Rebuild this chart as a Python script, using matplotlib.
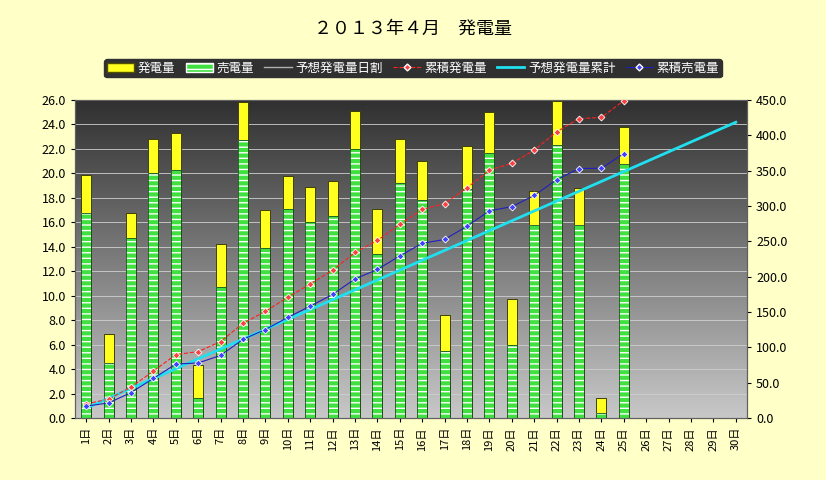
import matplotlib
matplotlib.use("Agg")
import matplotlib.pyplot as plt
import numpy as np
from matplotlib.lines import Line2D
from matplotlib.patches import Patch

plt.rcParams['font.family'] = 'Noto Sans CJK JP'

days = [f"{i}日" for i in range(1, 31)]
gen = [19.9, 6.9, 16.8, 22.8, 23.3, 4.3, 14.2, 25.8, 17.0, 19.8, 18.9, 19.4, 25.1,
       17.1, 22.8, 21.0, 8.4, 22.2, 25.0, 9.7, 18.6, 25.9, 18.8, 1.6, 23.8]
sold = [16.8, 4.5, 14.7, 20.0, 20.3, 1.6, 10.7, 22.7, 13.9, 17.1, 16.0, 16.5, 22.0,
        13.4, 19.2, 17.8, 5.5, 18.7, 21.7, 6.0, 15.8, 22.3, 15.8, 0.4, 20.8]
forecast_daily = [13.95] * 30

fig = plt.figure(figsize=(8.26, 4.8), dpi=100, facecolor='#FFFFC8')
ax = fig.add_axes([75/826, 62/480, 672/826, 318/480])
ax2 = ax.twinx()

grad = np.linspace(0, 1, 256).reshape(-1, 1)
ax.imshow(grad, extent=[-0.5, 29.5, 0, 26], aspect='auto', cmap=matplotlib.colors.LinearSegmentedColormap.from_list('g', ['#c8c8c8', '#303030']), origin='lower', zorder=0)

x = np.arange(len(gen))
ax.bar(x, gen, width=0.45, color='#FFFF20', edgecolor='#404000', linewidth=0.7, zorder=2)
ax.bar(x, sold, width=0.45, color='#40E040', edgecolor='#FFFFFF', hatch='---', linewidth=0, zorder=3)
ax.bar(x, sold, width=0.45, fill=False, edgecolor='#205020', linewidth=0.6, zorder=3)
for y in range(2, 26, 2):
    ax.axhline(y, color='#d0d0d0', lw=0.6, zorder=1)

cg = np.cumsum(gen)
cs = np.cumsum(sold)
cf = np.cumsum(forecast_daily)
ax2.plot(np.arange(30), cf, color='#20E0F0', lw=2, zorder=4)
ax2.plot(x, cg, color='#FF2020', lw=0.8, ls='--', marker='D', ms=3.5, mfc='#FF4040', mec='white', mew=0.6, zorder=5)
ax2.plot(x, cs, color='#2020C0', lw=0.8, marker='D', ms=3.5, mfc='#4040FF', mec='white', mew=0.6, zorder=5)

ax.set_xlim(-0.5, 29.5)
ax.set_ylim(0, 26)
ax.set_yticks(np.arange(0, 26.1, 2))
ax.set_yticklabels([f"{v:.1f}" for v in np.arange(0, 26.1, 2)], fontsize=9)
ax2.set_ylim(0, 450)
ax2.set_yticks(np.arange(0, 451, 50))
ax2.set_yticklabels([f"{v:.1f}" for v in np.arange(0, 451, 50)], fontsize=9)
ax.set_xticks(np.arange(30))
ax.set_xticklabels(days, rotation=90, fontsize=8)
for a in (ax, ax2):
    for s in a.spines.values():
        s.set_color('#606060')
ax.tick_params(direction='out', length=3)
ax2.tick_params(direction='out', length=3)

fig.text(0.5, 0.94, "２０１３年４月　発電量", ha='center', va='center', fontsize=13)

handles = [Patch(facecolor='#FFFF20', edgecolor='#505000'),
           Patch(facecolor='#40E040', edgecolor='white', hatch='---'),
           Line2D([], [], color='#b0b0b0', lw=1),
           Line2D([], [], color='#FF2020', ls='--', marker='D', ms=3.5, mfc='#FF4040', mec='white', lw=0.8),
           Line2D([], [], color='#20E0F0', lw=2),
           Line2D([], [], color='#2020C0', marker='D', ms=3.5, mfc='#4040FF', mec='white', lw=0.8)]
labels = ['発電量', '売電量', '予想発電量日割', '累積発電量', '予想発電量累計', '累積売電量']
leg = fig.legend(handles, labels, loc='center', bbox_to_anchor=(0.5, 0.858), ncol=6, fontsize=9,
                 frameon=True, facecolor='#303030', edgecolor='#303030', framealpha=1,
                 handlelength=2.2, columnspacing=0.8, handletextpad=0.3, borderpad=0.2)
for t in leg.get_texts():
    t.set_color('white')

fig.savefig('out.png', dpi=100, facecolor=fig.get_facecolor())
